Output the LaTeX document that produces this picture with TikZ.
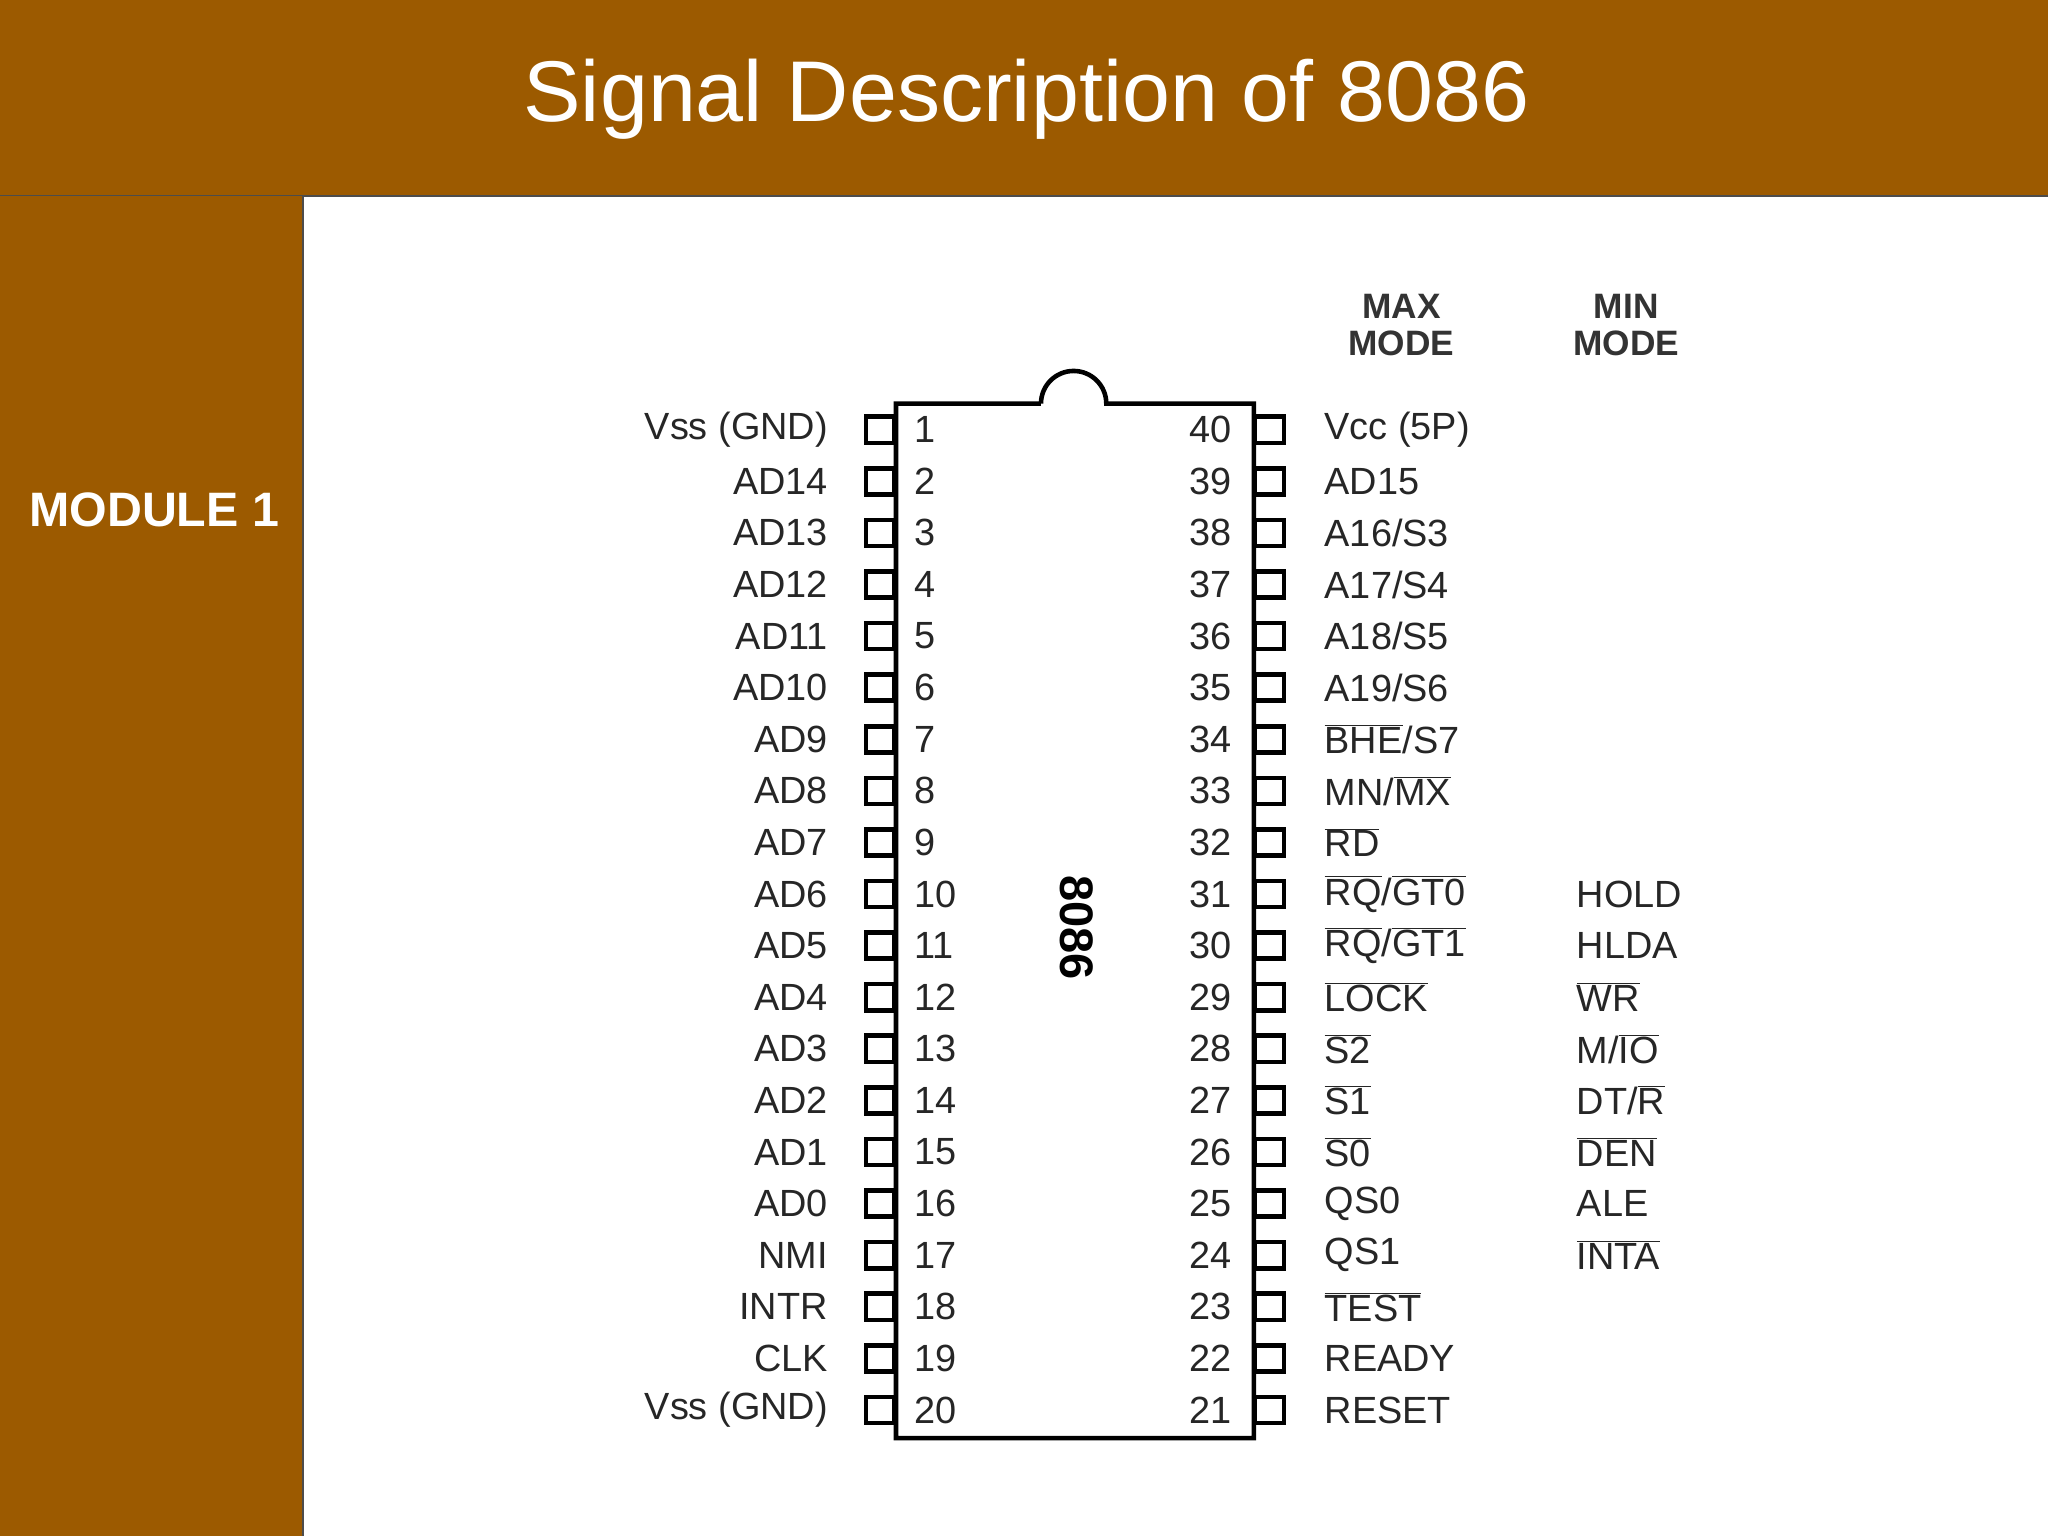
\documentclass[tikz,border=0pt]{standalone}
\usepackage{fontspec}
\setmainfont{Liberation Sans}
\newcommand{\ovl}[1]{$\overline{\mbox{#1}}$}
\definecolor{brn}{HTML}{9C5A00}
\begin{document}
\begin{tikzpicture}[x=1pt,y=-1pt,
  pin/.style={draw=black,line width=3.5pt,fill=white,minimum width=22pt,minimum height=20pt,inner sep=0pt},
  lab/.style={font=\fontsize{29}{30}\selectfont,text=black!85,inner sep=0pt},
  hdr/.style={font=\fontsize{27}{30}\selectfont\bfseries,text=black!80,align=center,inner sep=0pt}]
\useasboundingbox (0,0) rectangle (1568,1176);
\fill[white] (0,0) rectangle (1568,1176);
\fill[brn] (0,0) rectangle (1568,150);
\draw[black!70,line width=1pt] (0,150) -- (1568,150);
\fill[brn] (0,150) rectangle (232,1176);
\draw[black!70,line width=1pt] (232,150) -- (232,1176);
\node[text=white,font=\fontsize{66}{70}\selectfont] (title) at (786,76) {Signal Description of 8086};
\node[text=white,font=\fontsize{37}{40}\selectfont\bfseries] (mod) at (118,390) {MODULE 1};
% pins
\foreach \i in {1,...,20}{
  \node[pin] (L\i) at (674,{329+(\i-1)*39.5}) {};
  \node[pin] (R\i) at (972,{329+(\i-1)*39.5}) {};
  \node[lab,anchor=west] (ln\i) at (700,{329+(\i-1)*39.5}) {\i};
  \pgfmathtruncatemacro{\j}{41-\i}
  \node[lab,anchor=east] (rn\i) at (943,{329+(\i-1)*39.5}) {\j};
}
% chip body
\draw[black,line width=3.5pt,fill=none] (797,309) -- (686,309) -- (686,1101) -- (960,1101) -- (960,309) -- (847,309) arc[start angle=0,end angle=-180,radius=25];
\node[font=\fontsize{36}{40}\selectfont\bfseries,rotate=-90] (chip) at (824,710) {8086};
% left labels
\foreach \t [count=\i] in {Vss (GND),AD14,AD13,AD12,AD11,AD10,AD9,AD8,AD7,AD6,AD5,AD4,AD3,AD2,AD1,AD0,NMI,INTR,CLK,Vss (GND)}{
  \node[lab,anchor=east] (lt\i) at (634,{329+(\i-1)*39.5}) {\t};
}
% right labels
\foreach \t [count=\i] in {Vcc (5P),AD15,A16/S3,A17/S4,A18/S5,A19/S6,\ovl{BHE}/S7,MN/\ovl{MX},\ovl{RD},\ovl{RQ}/\ovl{GT0},\ovl{RQ}/\ovl{GT1},\ovl{LOCK},\ovl{S2},\ovl{S1},\ovl{S0},QS0,QS1,\ovl{TEST},READY,RESET}{
  \node[lab,anchor=west] (rt\i) at (1014,{329+(\i-1)*39.5}) {\t};
}
% min mode
\foreach \t [count=\k from 10] in {HOLD,HLDA,\ovl{WR},M/\ovl{IO},DT/\ovl{R},\ovl{DEN},ALE,\ovl{INTA}}{
  \node[lab,anchor=west] (mt\k) at (1207,{329+(\k-1)*39.5}) {\t};
}
\node[hdr] (maxh) at (1073,249) {MAX\\[-2pt]MODE};
\node[hdr] (minh) at (1245,249) {MIN\\[-2pt]MODE};
\end{tikzpicture}
\end{document}
